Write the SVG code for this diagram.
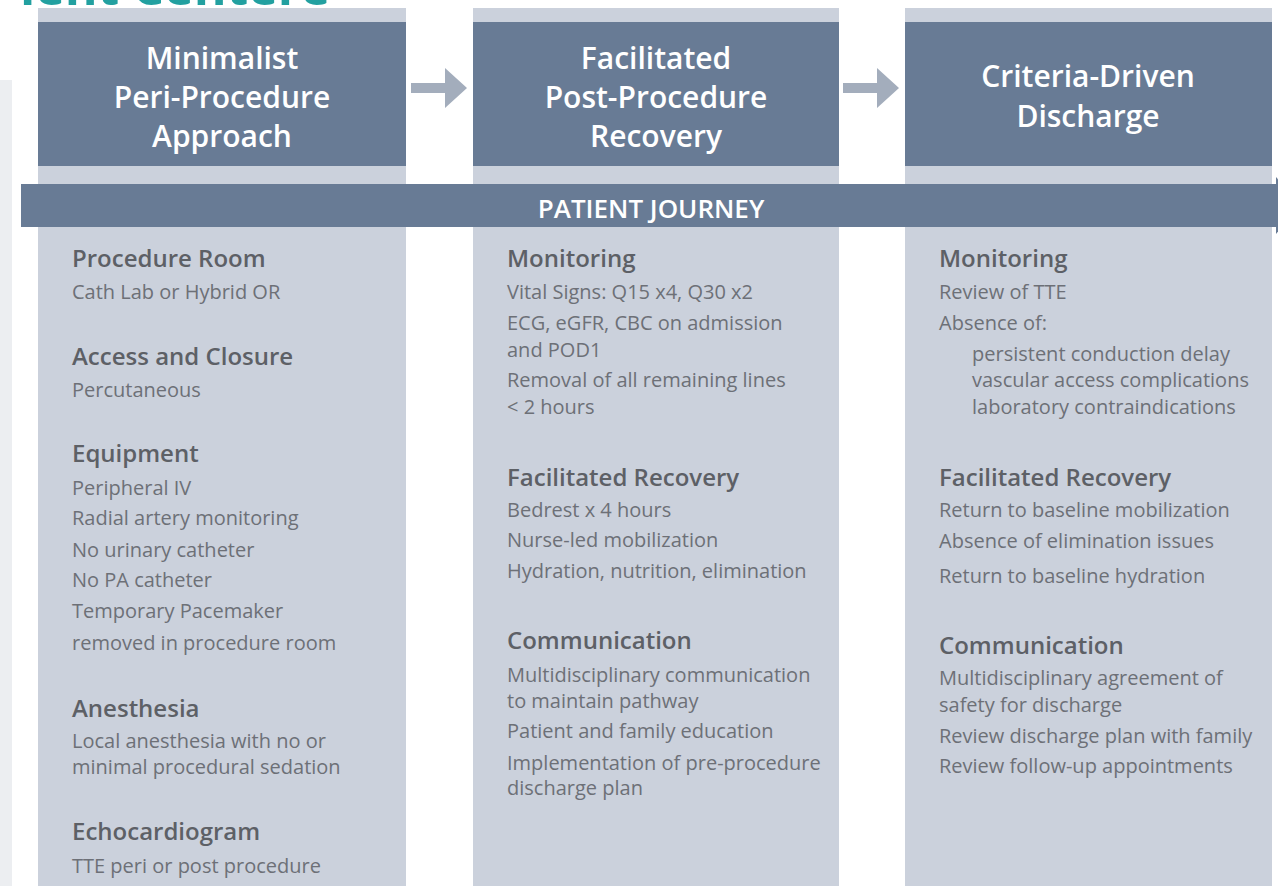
<svg xmlns="http://www.w3.org/2000/svg" width="1278" height="886" viewBox="0 0 1278 886">
  <style>
    .col { fill: #cbd1dc; }
    .hdr { fill: #687b95; }
    .ht { font-family: "Open Sans", "Liberation Sans", sans-serif; font-weight: 600; font-size: 30px; fill: #ffffff; text-anchor: middle; }
    .h { font-family: "Open Sans", "Liberation Sans", sans-serif; font-weight: 600; font-size: 24px; fill: #5d6066; }
    .b { font-family: "Open Sans", "Liberation Sans", sans-serif; font-weight: 400; font-size: 20px; fill: #6d7077; }
    .arrow { fill: #a3adbc; }
  </style>

  <rect width="1278" height="886" fill="#ffffff"/>
  <!-- left page edge -->
  <rect x="0" y="80" width="12" height="806" fill="#eceef1"/>
  <!-- page title, running off the top edge -->
  <text x="330" y="5" text-anchor="end" font-family="Open Sans, Liberation Sans, sans-serif" font-weight="700" font-size="50" fill="#22a0a0">ient Centere</text>

  <g id="col-peri-procedure">
    <rect class="col" x="38" y="8" width="368" height="878"/>
    <rect class="hdr" x="38" y="22" width="368" height="144"/>
    <text class="ht" x="222" y="69">Minimalist</text>
    <text class="ht" x="222" y="108">Peri-Procedure</text>
    <text class="ht" x="222" y="147">Approach</text>
    <text class="h" x="72" y="267">Procedure Room</text>
    <text class="b" x="72" y="299">Cath Lab or Hybrid OR</text>
    <text class="h" x="72" y="365">Access and Closure</text>
    <text class="b" x="72" y="397">Percutaneous</text>
    <text class="h" x="72" y="462">Equipment</text>
    <text class="b" x="72" y="495">Peripheral IV</text>
    <text class="b" x="72" y="525">Radial artery monitoring</text>
    <text class="b" x="72" y="557">No urinary catheter</text>
    <text class="b" x="72" y="587">No PA catheter</text>
    <text class="b" x="72" y="618">Temporary Pacemaker</text>
    <text class="b" x="72" y="650">removed in procedure room</text>
    <text class="h" x="72" y="717">Anesthesia</text>
    <text class="b" x="72" y="748">Local anesthesia with no or</text>
    <text class="b" x="72" y="774">minimal procedural sedation</text>
    <text class="h" x="72" y="840">Echocardiogram</text>
    <text class="b" x="72" y="873">TTE peri or post procedure</text>
  </g>

  <g id="col-post-procedure">
    <rect class="col" x="473" y="8" width="366" height="878"/>
    <rect class="hdr" x="473" y="22" width="366" height="144"/>
    <text class="ht" x="656" y="69">Facilitated</text>
    <text class="ht" x="656" y="108">Post-Procedure</text>
    <text class="ht" x="656" y="147">Recovery</text>
    <text class="h" x="507" y="267">Monitoring</text>
    <text class="b" x="507" y="299">Vital Signs: Q15 x4, Q30 x2</text>
    <text class="b" x="507" y="330">ECG, eGFR, CBC on admission</text>
    <text class="b" x="507" y="357">and POD1</text>
    <text class="b" x="507" y="387">Removal of all remaining lines</text>
    <text class="b" x="507" y="414">&lt; 2 hours</text>
    <text class="h" x="507" y="486">Facilitated Recovery</text>
    <text class="b" x="507" y="517">Bedrest x 4 hours</text>
    <text class="b" x="507" y="547">Nurse-led mobilization</text>
    <text class="b" x="507" y="578">Hydration, nutrition, elimination</text>
    <text class="h" x="507" y="649">Communication</text>
    <text class="b" x="507" y="682">Multidisciplinary communication</text>
    <text class="b" x="507" y="708">to maintain pathway</text>
    <text class="b" x="507" y="738">Patient and family education</text>
    <text class="b" x="507" y="770">Implementation of pre-procedure</text>
    <text class="b" x="507" y="795">discharge plan</text>
  </g>

  <g id="col-discharge">
    <rect class="col" x="905" y="8" width="367" height="878"/>
    <rect class="hdr" x="905" y="22" width="367" height="144"/>
    <text class="ht" x="1088" y="87">Criteria-Driven</text>
    <text class="ht" x="1088" y="127">Discharge</text>
    <text class="h" x="939" y="267">Monitoring</text>
    <text class="b" x="939" y="299">Review of TTE</text>
    <text class="b" x="939" y="330">Absence of:</text>
    <text class="b" x="972" y="361">persistent conduction delay</text>
    <text class="b" x="972" y="387">vascular access complications</text>
    <text class="b" x="972" y="414">laboratory contraindications</text>
    <text class="h" x="939" y="486">Facilitated Recovery</text>
    <text class="b" x="939" y="517">Return to baseline mobilization</text>
    <text class="b" x="939" y="548">Absence of elimination issues</text>
    <text class="b" x="939" y="583">Return to baseline hydration</text>
    <text class="h" x="939" y="654">Communication</text>
    <text class="b" x="939" y="685">Multidisciplinary agreement of</text>
    <text class="b" x="939" y="712">safety for discharge</text>
    <text class="b" x="939" y="743">Review discharge plan with family</text>
    <text class="b" x="939" y="773">Review follow-up appointments</text>
  </g>

  <g id="patient-journey">
    <rect class="hdr" x="21" y="184" width="1257" height="43"/>
    <polygon class="hdr" points="1276,177 1300,205 1276,234"/>
    <text x="651" y="218" text-anchor="middle" font-family="Open Sans, Liberation Sans, sans-serif" font-weight="600" font-size="26" fill="#ffffff">PATIENT JOURNEY</text>
  </g>

  <g id="connectors">
    <polygon class="arrow" points="411,83 445,83 445,68 467,88 445,108 445,93 411,93"/>
    <polygon class="arrow" points="843,83 877,83 877,68 899,88 877,108 877,93 843,93"/>
  </g>
</svg>
